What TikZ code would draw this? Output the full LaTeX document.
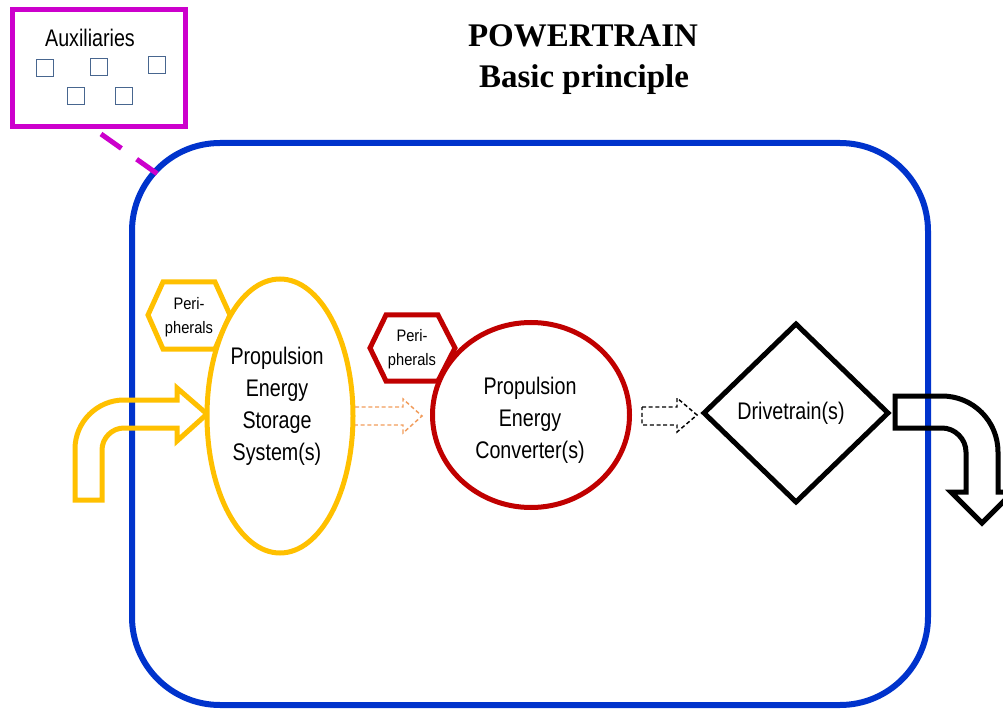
\documentclass[tikz,border=0pt]{standalone}
\usepackage{fontspec}
\setmainfont{Liberation Sans}
\newfontfamily\lab[FakeStretch=0.82]{Liberation Sans}
\newfontfamily\plab[FakeStretch=0.88]{Liberation Sans}
\newfontfamily\ttl{Liberation Serif}
\usetikzlibrary{shapes.geometric}
\definecolor{fblue}{HTML}{0033CC}
\definecolor{fmag}{HTML}{CC00CC}
\definecolor{fyel}{HTML}{FFC000}
\definecolor{fred}{HTML}{C00000}
\definecolor{forg}{HTML}{F19C5B}
\definecolor{fsq}{HTML}{48668F}
\begin{document}
\begin{tikzpicture}[x=0.75pt,y=-0.75pt,
  thk/.style={line width=3.75pt},
  lbl/.style={font=\lab\fontsize{18}{24}\selectfont, align=center, inner sep=0pt},
  plbl/.style={font=\plab\fontsize{12.5}{18}\selectfont, align=center, inner sep=0pt},
  ttlstyle/.style={font=\ttl\bfseries\fontsize{24.75}{30}\selectfont, anchor=base, inner sep=0pt},
  sq/.style={draw=fsq, line width=1.1pt, minimum size=12.75pt, inner sep=0pt},
  dasharrow/.style={line width=1.1pt, dash pattern=on 3pt off 2pt},
]
\useasboundingbox (0,0) rectangle (1003,709);

% powertrain frame
\draw[fblue, line width=4.5pt, rounded corners=66pt] (132,143) rectangle (928,705);
\coordinate (frameedge) at (159,175);

% title
\node[ttlstyle] (t1) at (583,47) {POWERTRAIN};
\node[ttlstyle] (t2) at (584,88) {Basic principle};

% auxiliaries
\node[draw=fmag, thk, minimum width=129.75pt, minimum height=87.75pt, inner sep=0pt] (aux) at (98.5,68.5) {};
\node[lbl, anchor=base] (auxtext) at (90,47) {Auxiliaries};
\node[sq] (s1) at (45,68) {};
\node[sq] (s2) at (99,67) {};
\node[sq] (s3) at (157,65) {};
\node[sq] (s4) at (76,96) {};
\node[sq] (s5) at (124,96) {};
\coordinate (auxlink) at (101,134);
\draw[fmag, thk, dash pattern=on 18.75pt off 14pt] (auxlink) -- (frameedge);

% input arrow (yellow)
\draw[fyel, thk] (75,500) -- (75,449) .. controls (75,422) and (97,400) .. (124,400)
  -- (177,400) -- (177,388) -- (207,414) -- (177,441) -- (177,428) -- (124,428)
  .. controls (112,428) and (102,438) .. (102,450) -- (102,500) -- cycle;

% storage system
\draw[fyel, thk, fill=white] (148,315) -- (163,282) -- (215,282) -- (230,315) -- (215,349) -- (163,349) -- cycle;
\node[plbl] (p1) at (189,317) {Peri-\\pherals};
\node[ellipse, draw=fyel, thk, fill=white, minimum width=109.5pt, minimum height=205.5pt, inner sep=0pt] (pes) at (280,416) {};
\node[lbl] (pestext) at (277,406) {Propulsion\\Energy\\Storage\\System(s)};

% orange dashed arrow
\draw[forg, dasharrow] (355,407) -- (403,407) -- (403,399) -- (422,416) -- (403,433) -- (403,425) -- (355,425);

% converter
\draw[fred, thk, fill=white] (370,348) -- (386,315) -- (438,315) -- (455,348) -- (438,381) -- (386,381) -- cycle;
\node[plbl] (p2) at (412,349) {Peri-\\pherals};
\node[ellipse, draw=fred, thk, fill=white, minimum width=147.75pt, minimum height=138.75pt, inner sep=0pt] (pec) at (531,415) {};
\node[lbl] (pectext) at (530,420) {Propulsion\\Energy\\Converter(s)};

% black dashed arrow
\draw[black, dasharrow] (642,407) -- (677,407) -- (677,398) -- (697,415) -- (677,432) -- (677,425) -- (642,425) -- cycle;

% drivetrain
\node[diamond, draw=black, thk, minimum width=139.5pt, minimum height=135pt, inner sep=0pt] (dt) at (796,413) {};
\node[lbl] (dttext) at (791,413) {Drivetrain(s)};

% output arrow (black)
\draw[black, thk] (895,396) -- (942,396) .. controls (973,396) and (998,421) .. (998,452)
  -- (998,492) -- (1013,492) -- (982,523) -- (951,492) -- (966,492) -- (966,452)
  .. controls (966,439) and (955,428) .. (942,428) -- (895,428) -- cycle;
\end{tikzpicture}
\end{document}
